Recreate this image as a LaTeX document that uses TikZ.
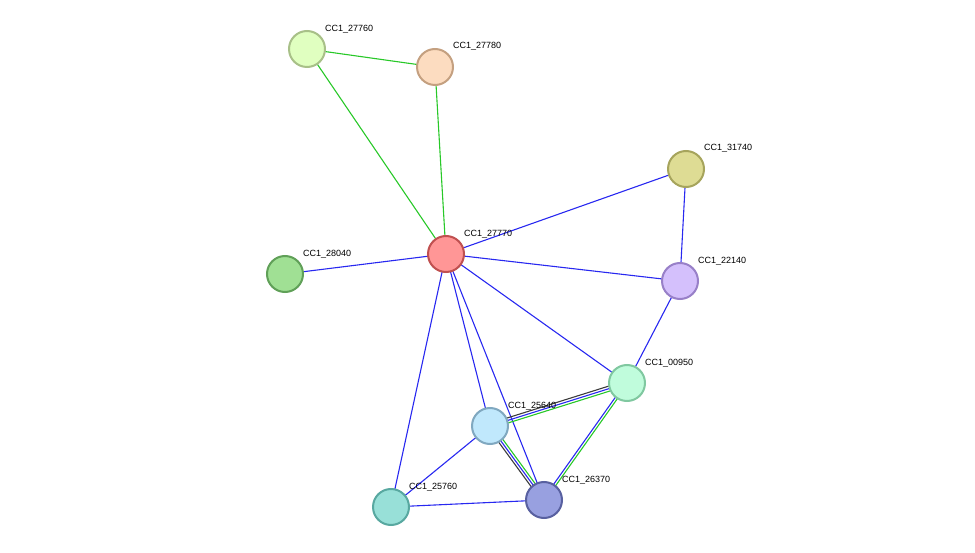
\documentclass[tikz,border=0pt]{standalone}
\usepackage{fontspec}
\setmainfont{Liberation Sans}
\begin{document}
\begin{tikzpicture}[x=1pt,y=-1pt,
  prot/.style={circle,minimum size=36pt,inner sep=0pt,line width=2pt},
  lab/.style={anchor=south west,font=\fontsize{9}{10}\selectfont,inner sep=0pt},
  g/.style={draw={rgb,255:red,40;green,200;blue,40},line width=1.1pt},
  b/.style={draw={rgb,255:red,40;green,40;blue,240},line width=1.1pt},
  k/.style={draw={rgb,255:red,60;green,60;blue,60},line width=1.1pt}]
\useasboundingbox (0,0) rectangle (975,553);
\coordinate (a) at (307,49);
\coordinate (bb) at (435,67);
\coordinate (c) at (686,169);
\coordinate (d) at (446,254);
\coordinate (e) at (285,274);
\coordinate (f) at (680,281);
\coordinate (h) at (627,383);
\coordinate (i) at (490,426);
\coordinate (j) at (544,500);
\coordinate (l) at (391,507);
\path[g] (a)--(bb) (a)--(d) (bb)--(d);
\path[b] (d)--(c) (d)--(e) (d)--(f) (d)--(h) (d)--(i) (d)--(j) (d)--(l) (c)--(f) (f)--(h) (i)--(l) (l)--(j);
\path[k,transform canvas={shift={(-0.75pt,2.4pt)}}] (h)--(i);
\path[b] (h)--(i);
\path[g,transform canvas={shift={(0.75pt,-2.4pt)}}] (h)--(i);
\path[k,transform canvas={shift={(-2pt,-1.5pt)}}] (i)--(j);
\path[b] (i)--(j);
\path[g,transform canvas={shift={(2pt,1.5pt)}}] (i)--(j);
\path[b,transform canvas={shift={(-1pt,0.7pt)}}] (h)--(j);
\path[g,transform canvas={shift={(1pt,-0.7pt)}}] (h)--(j);
\def\P#1#2#3#4{\node[prot,fill={rgb,255:#2},draw={rgb,255:#3}] (n#1) at (#1) {};}
\P{a}{red,224;green,255;blue,192}{red,168;green,192;blue,136}{}
\P{bb}{red,252;green,220;blue,192}{red,196;green,160;blue,128}{}
\P{c}{red,222;green,220;blue,148}{red,166;green,164;blue,92}{}
\P{d}{red,255;green,150;blue,150}{red,192;green,80;blue,80}{}
\P{e}{red,160;green,224;blue,148}{red,96;green,160;blue,88}{}
\P{f}{red,212;green,192;blue,252}{red,152;green,128;blue,200}{}
\P{h}{red,192;green,252;blue,220}{red,128;green,200;blue,160}{}
\P{i}{red,192;green,232;blue,252}{red,128;green,168;blue,192}{}
\P{j}{red,152;green,160;blue,224}{red,88;green,96;blue,160}{}
\P{l}{red,152;green,224;blue,216}{red,88;green,168;blue,160}{}
\node[lab] (la) at (325,33) {CC1\_27760};
\node[lab] (lb) at (453,50) {CC1\_27780};
\node[lab] (lc) at (704,152) {CC1\_31740};
\node[lab] (ld) at (464,238) {CC1\_27770};
\node[lab] (le) at (303,258) {CC1\_28040};
\node[lab] (lf) at (698,265) {CC1\_22140};
\node[lab] (lh) at (645,367) {CC1\_00950};
\node[lab] (li) at (508,410) {CC1\_25640};
\node[lab] (lj) at (562,484) {CC1\_26370};
\node[lab] (ll) at (409,491) {CC1\_25760};
\end{tikzpicture}
\end{document}
